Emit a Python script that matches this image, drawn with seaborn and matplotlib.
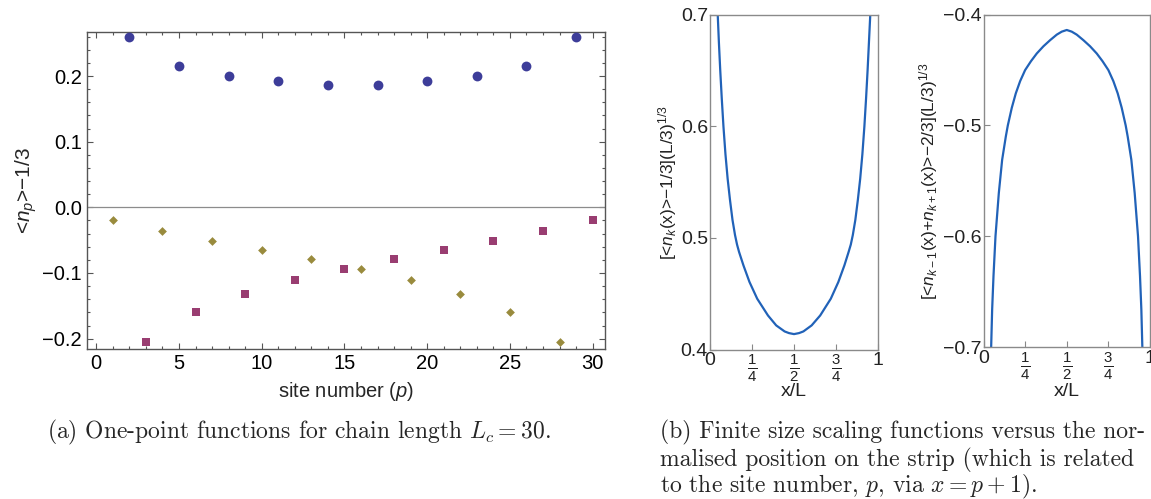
import numpy as np
import pandas as pd
import matplotlib
matplotlib.use("Agg")
import matplotlib.pyplot as plt
import seaborn as sns
from matplotlib.ticker import MultipleLocator, FuncFormatter

# ---- one-point functions, chain length 30 ----
sites_odd = [2, 5, 8, 11, 14, 17, 20, 23, 26, 29]
vals_odd = [0.259, 0.216, 0.200, 0.192, 0.187, 0.187, 0.192, 0.200, 0.216, 0.259]
sites_sq = [3, 6, 9, 12, 15, 18, 21, 24, 27, 30]
vals_sq = [-0.2055, -0.160, -0.132, -0.111, -0.094, -0.079, -0.065, -0.052, -0.0365, -0.020]
sites_dm = [1, 4, 7, 10, 13, 16, 19, 22, 25, 28]
vals_dm = [-0.020, -0.0365, -0.052, -0.065, -0.079, -0.094, -0.111, -0.132, -0.160, -0.2055]

# ---- finite size scaling functions ----
x_single = [0.046, 0.053, 0.061, 0.070, 0.080, 0.092, 0.105, 0.119, 0.134, 0.149,
            0.161, 0.173, 0.199, 0.235, 0.281, 0.345, 0.394, 0.444, 0.470, 0.500,
            0.530, 0.556, 0.605, 0.656, 0.719, 0.764, 0.800, 0.825, 0.838, 0.850,
            0.865, 0.880, 0.894, 0.907, 0.919, 0.929, 0.938, 0.946, 0.954]
y_single = [0.700, 0.675, 0.650, 0.625, 0.600, 0.575, 0.553, 0.534, 0.516, 0.5025,
            0.494, 0.4874, 0.4754, 0.4605, 0.4455, 0.4305, 0.4216, 0.4162, 0.4147, 0.4138,
            0.4147, 0.4162, 0.4216, 0.4305, 0.4455, 0.4605, 0.4754, 0.4874, 0.494, 0.5025,
            0.516, 0.534, 0.553, 0.575, 0.600, 0.625, 0.650, 0.675, 0.700]
x_pair = [0.046, 0.052, 0.060, 0.072, 0.092, 0.112, 0.134, 0.146, 0.170, 0.194,
          0.220, 0.250, 0.285, 0.320, 0.360, 0.400, 0.440, 0.470, 0.500, 0.530,
          0.560, 0.600, 0.640, 0.680, 0.715, 0.750, 0.780, 0.806, 0.830, 0.854,
          0.866, 0.888, 0.908, 0.928, 0.940, 0.948, 0.954]
y_pair = [-0.700, -0.666, -0.636, -0.600, -0.561, -0.531, -0.510, -0.500, -0.484, -0.471,
          -0.460, -0.450, -0.442, -0.435, -0.4285, -0.423, -0.418, -0.4153, -0.4138, -0.4153,
          -0.418, -0.423, -0.4285, -0.435, -0.442, -0.450, -0.460, -0.471, -0.484, -0.500,
          -0.510, -0.531, -0.561, -0.600, -0.636, -0.666, -0.700]

frac_ticks = [0, 0.25, 0.5, 0.75, 1]
frac_labels = ["0", r"$\frac{1}{4}$", r"$\frac{1}{2}$", r"$\frac{3}{4}$", "1"]

sns.set_style("ticks")
plt.rcParams["font.family"] = ["Liberation Sans", "DejaVu Sans"]
plt.rcParams["mathtext.fontset"] = "custom"
plt.rcParams["mathtext.rm"] = "Liberation Sans"
plt.rcParams["mathtext.it"] = "Liberation Sans:italic"
plt.rcParams["mathtext.bf"] = "Liberation Sans:bold"

W, H = 1151, 499
fig = plt.figure(figsize=(W / 100, H / 100), dpi=100)


def box(l, r, t, b):
    return [l / W, 1 - b / H, (r - l) / W, (b - t) / H]


# ---- panel (a) ----
ax1 = fig.add_axes(box(87.2, 605, 31.7, 348.7))
df = pd.DataFrame({
    "site": sites_odd + sites_sq + sites_dm,
    "value": vals_odd + vals_sq + vals_dm,
    "kind": ["A"] * len(sites_odd) + ["B"] * len(sites_sq) + ["C"] * len(sites_dm),
})
palette = {"A": "#3d3d99", "B": "#993d71", "C": "#998b3d"}
ax1.axhline(0, color="#8c8c8c", lw=0.9, zorder=1)
for kind, marker, size in [("A", "o", 50), ("B", "s", 36), ("C", "D", 20)]:
    sns.scatterplot(data=df[df["kind"] == kind], x="site", y="value", color=palette[kind],
                    marker=marker, s=size, linewidth=0, ax=ax1, legend=False, zorder=3)
ax1.set_xlim(-0.55, 30.75)
ax1.set_ylim(-0.2153, 0.2675)
ax1.xaxis.set_major_locator(MultipleLocator(5))
ax1.xaxis.set_minor_locator(MultipleLocator(1))
ax1.yaxis.set_major_locator(MultipleLocator(0.1))
ax1.yaxis.set_minor_locator(MultipleLocator(0.02))
ax1.yaxis.set_major_formatter(FuncFormatter(lambda v, p: f"{v:.1f}".replace("-", "\u2212")))
ax1.tick_params(which="both", direction="in", top=True, right=True, colors="#555555",
                labelcolor="black", labelsize=14.5, width=0.8)
ax1.tick_params(which="major", length=4.5, pad=4)
ax1.tick_params(which="minor", length=2.5)
for sp in ax1.spines.values():
    sp.set_color("#555555")
    sp.set_linewidth(1.0)
ax1.set_xlabel("site number ($p$)", fontsize=14.5)
ax1.set_ylabel("<$n_p$>\u22121/3", fontsize=15, va="center")
ax1.xaxis.set_label_coords(0.5, -0.1)
ax1.yaxis.set_label_coords(-0.118, 0.5)

# ---- panel (b), left ----
line_c = "#2162b8"
ax2 = fig.add_axes(box(710, 878, 14.7, 349.5))
sns.lineplot(x=x_single, y=y_single, sort=False, estimator=None, color=line_c, lw=1.6, ax=ax2)
ax2.set_xlim(0, 1)
ax2.set_ylim(0.4, 0.7)
ax2.set_yticks([0.4, 0.5, 0.6, 0.7])
ax2.set_yticklabels(["0.4", "0.5", "0.6", "0.7"])
ax2.set_ylabel("[<$n_k$(x)>\u22121/3](L/3)$^{1/3}$", fontsize=12.5, va="center", color="#222222")
ax2.yaxis.set_label_coords(-0.25, 0.5)

# ---- panel (b), right ----
ax3 = fig.add_axes(box(983.5, 1150, 14.7, 347))
sns.lineplot(x=x_pair, y=y_pair, sort=False, estimator=None, color=line_c, lw=1.6, ax=ax3)
ax3.set_xlim(0, 1)
ax3.set_ylim(-0.7, -0.4)
ax3.set_yticks([-0.7, -0.6, -0.5, -0.4])
ax3.set_yticklabels(["\u22120.7", "\u22120.6", "\u22120.5", "\u22120.4"])
ax3.set_ylabel("[<$n_{k\u22121}$(x)+$n_{k+1}$(x)>\u22122/3](L/3)$^{1/3}$", fontsize=12.5,
               va="center", color="#222222")
ax3.yaxis.set_label_coords(-0.333, 0.5)

for ax, ylab in ((ax2, -0.1), (ax3, -0.108)):
    ax.tick_params(direction="in", length=4, width=0.8, colors="#888888",
                   labelcolor="#222222", labelsize=14)
    ax.tick_params(axis="x", pad=2)
    ax.tick_params(axis="y", pad=1.5)
    ax.set_xticks(frac_ticks)
    labels = ax.set_xticklabels(frac_labels)
    for lab in labels[1:4]:
        lab.set_fontsize(15.5)
    ax.set_xlabel("x/L", fontsize=14, color="#222222")
    ax.xaxis.set_label_coords(0.5, ylab)
    for sp in ax.spines.values():
        sp.set_color("#8a8a8a")
        sp.set_linewidth(1.0)

# ---- captions ----
cap = dict(family="cmr10", fontsize=17, math_fontfamily="cm", va="center", ha="left")
fig.text(47 / W, 1 - 432 / H, "(a) One-point functions for chain length $L_c = 30$.", **cap)
fig.text(660 / W, 1 - 432 / H, "(b) Finite size scaling functions versus the nor-", **cap)
fig.text(660 / W, 1 - 459.5 / H, "malised position on the strip (which is related", **cap)
fig.text(660 / W, 1 - 487 / H, "to the site number, $p$, via $x = p + 1$).", **cap)

fig.savefig("out.png", dpi=100)
